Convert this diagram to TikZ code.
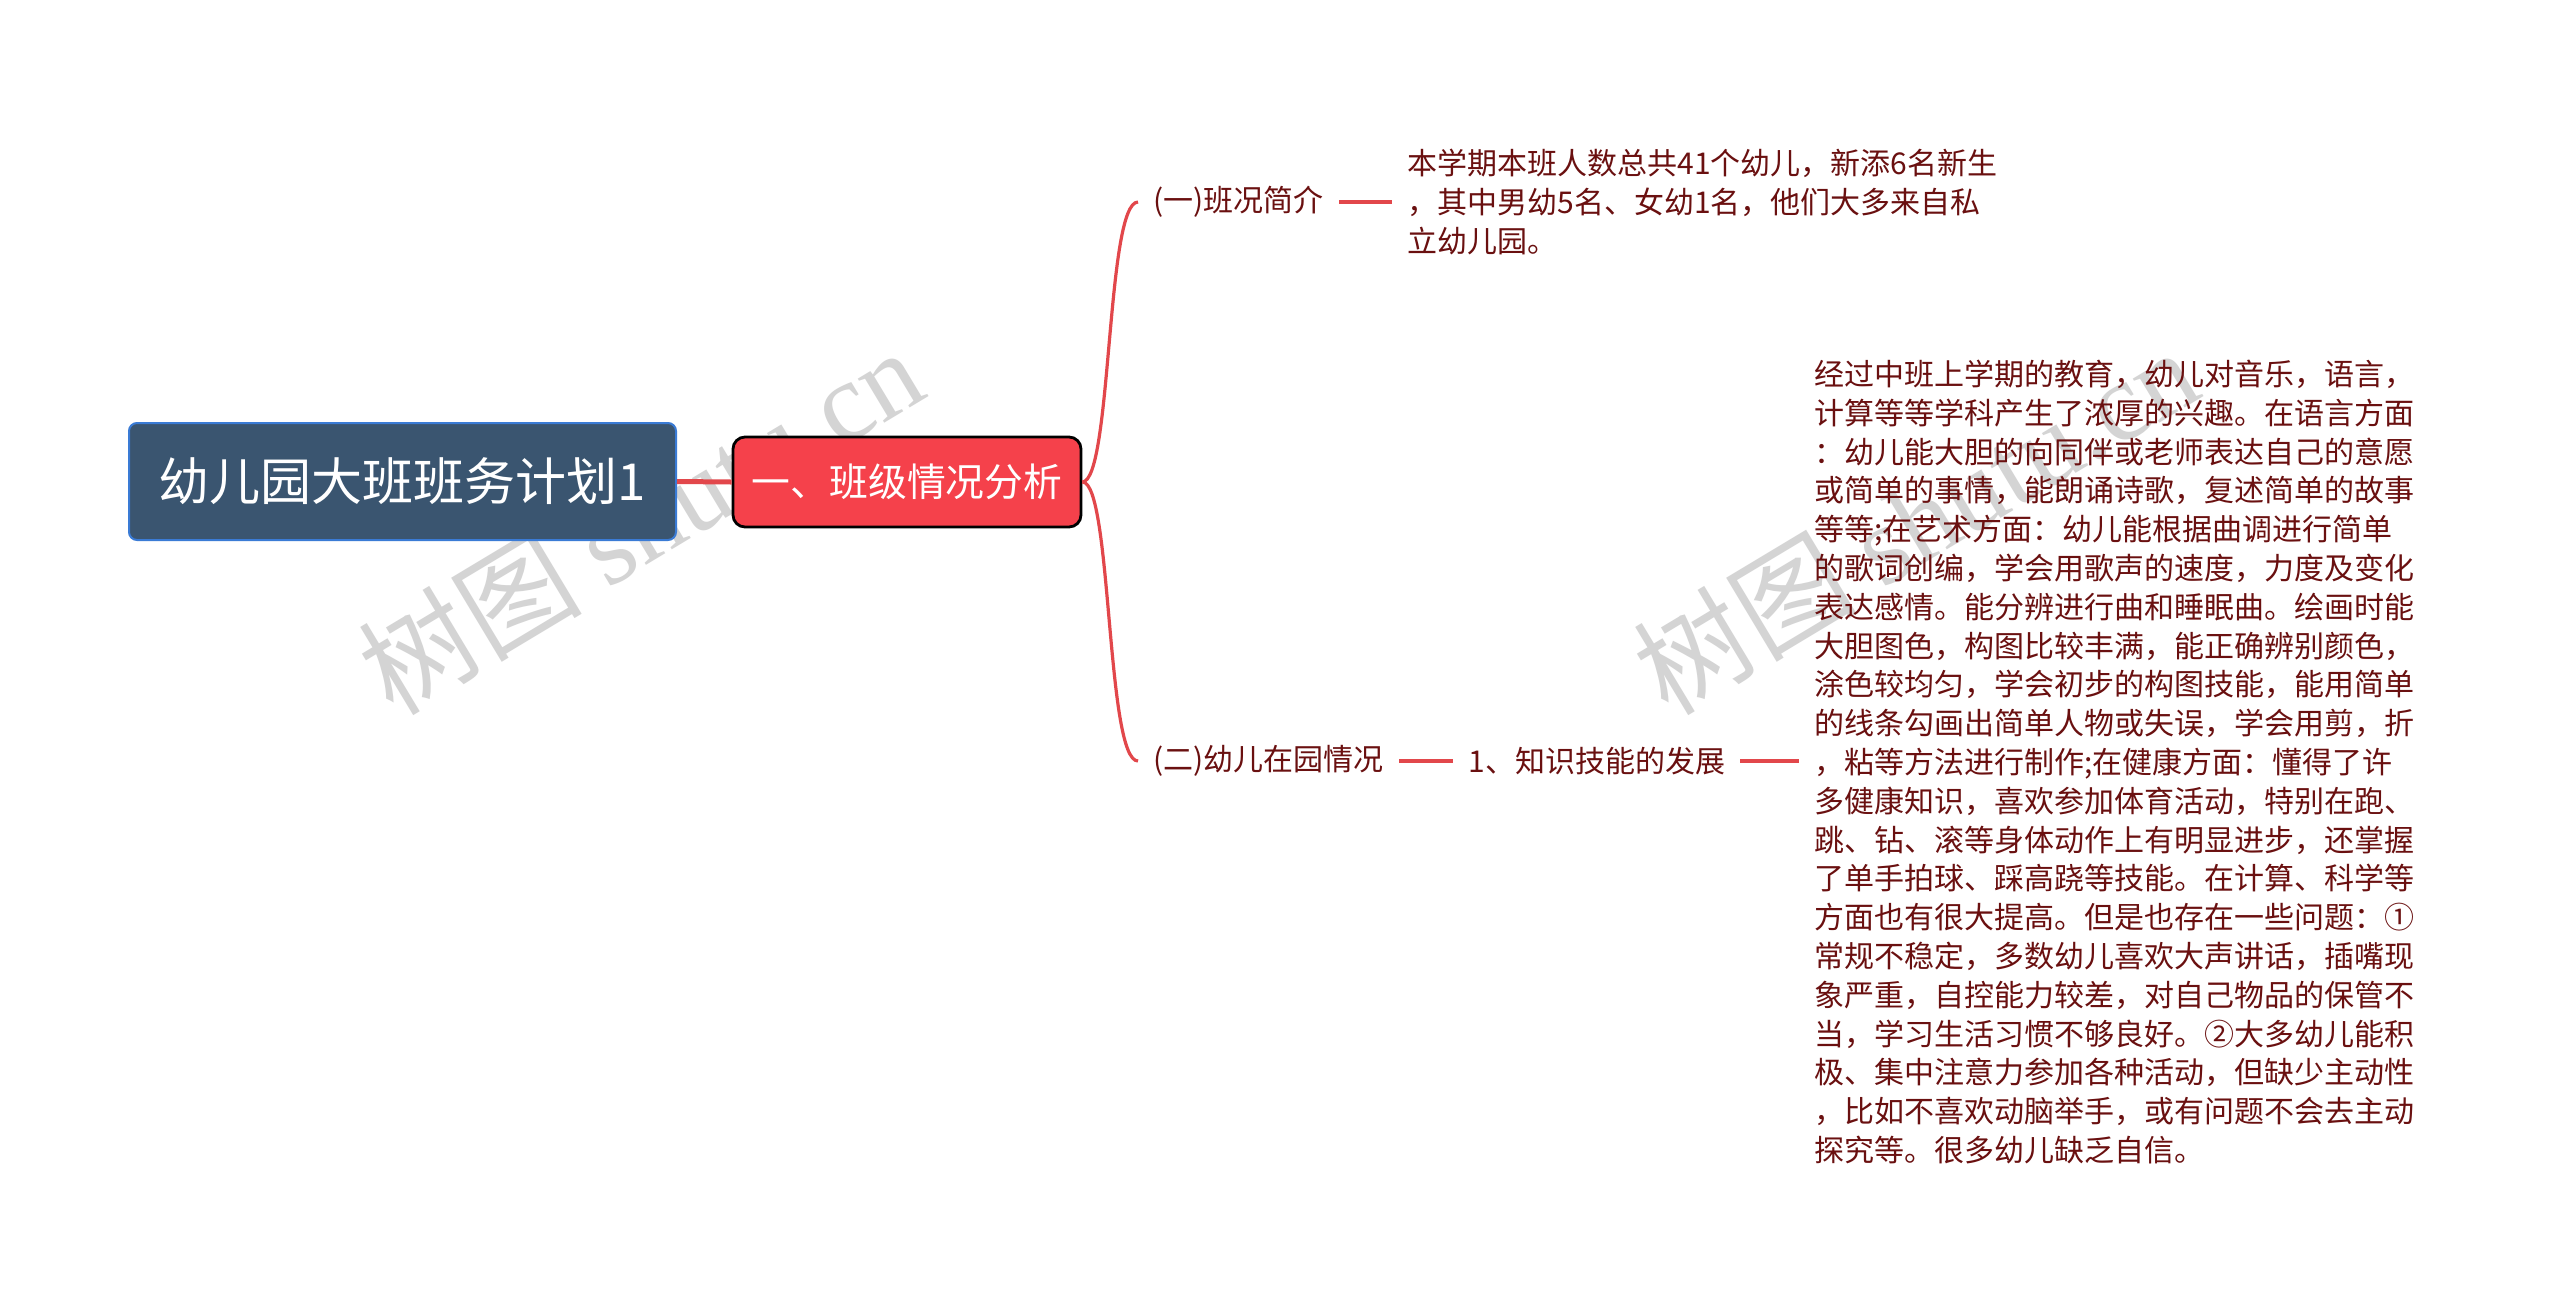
\documentclass[tikz,border=0pt]{standalone}
\usepackage{fontspec}
\setmainfont{Noto Sans CJK SC}
\newfontfamily\wmserif{Liberation Serif}
\definecolor{rootfill}{HTML}{3A5570}
\definecolor{rootborder}{HTML}{3A7BD5}
\definecolor{lonefill}{HTML}{F5414B}
\definecolor{linkred}{HTML}{E2474B}
\definecolor{txtred}{HTML}{6A1010}
\definecolor{wmgray}{HTML}{D4D4D4}
\begin{document}
\begin{tikzpicture}[x=0.5pt,y=-0.5pt,
  rootbox/.style={draw=rootborder,line width=1pt,fill=rootfill,rounded corners=4pt,
    minimum width=273.5pt,minimum height=58.5pt,text=white,font=\fontsize{25.5pt}{30pt}\selectfont},
  lonebox/.style={draw=black,line width=1.4pt,fill=lonefill,rounded corners=6pt,
    minimum width=174pt,minimum height=45pt,text=white,font=\fontsize{19.4pt}{23pt}\selectfont},
  plain/.style={text=txtred,inner xsep=7.5pt,inner ysep=2pt,anchor=west,align=left,
    font=\fontsize{15pt}{19.4pt}\selectfont},
  link/.style={draw=linkred,line width=2pt},
  curvelink/.style={draw=linkred,line width=1.6pt},
  wm/.style={text=wmgray,rotate=31,font=\fontsize{56pt}{58pt}\selectfont,inner sep=0pt}]
\useasboundingbox (0,0) rectangle (2560,1313);
\fill[white] (0,0) rectangle (2560,1313);
% watermarks
\node[wm] (wm1) at (640,520) {树图 {\wmserif shutu.cn}};
\node[wm] (wm2) at (1915,520) {树图 {\wmserif shutu.cn}};
% nodes
\node[rootbox] (root) at (402.5,481.5) {幼儿园大班班务计划1};
\node[lonebox] (l1) at (907,482) {一、班级情况分析};
\node[plain] (b1) at (1138,202) {(一)班况简介};
\node[plain] (leaf1) at (1392,202) {本学期本班人数总共41个幼儿，新添6名新生\\，其中男幼5名、女幼1名，他们大多来自私\\立幼儿园。};
\node[plain] (b2) at (1138,761) {(二)幼儿在园情况};
\node[plain] (c1) at (1453,761) {1、知识技能的发展};
\node[plain] (leaf2) at (1799,762) {经过中班上学期的教育，幼儿对音乐，语言，\\
计算等等学科产生了浓厚的兴趣。在语言方面\\
：幼儿能大胆的向同伴或老师表达自己的意愿\\
或简单的事情，能朗诵诗歌，复述简单的故事\\
等等;在艺术方面：幼儿能根据曲调进行简单\\
的歌词创编，学会用歌声的速度，力度及变化\\
表达感情。能分辨进行曲和睡眠曲。绘画时能\\
大胆图色，构图比较丰满，能正确辨别颜色，\\
涂色较均匀，学会初步的构图技能，能用简单\\
的线条勾画出简单人物或失误，学会用剪，折\\
，粘等方法进行制作;在健康方面：懂得了许\\
多健康知识，喜欢参加体育活动，特别在跑、\\
跳、钻、滚等身体动作上有明显进步，还掌握\\
了单手拍球、踩高跷等技能。在计算、科学等\\
方面也有很大提高。但是也存在一些问题：①\\
常规不稳定，多数幼儿喜欢大声讲话，插嘴现\\
象严重，自控能力较差，对自己物品的保管不\\
当，学习生活习惯不够良好。②大多幼儿能积\\
极、集中注意力参加各种活动，但缺少主动性\\
，比如不喜欢动脑举手，或有问题不会去主动\\
探究等。很多幼儿缺乏自信。};
% connectors
\draw[link,line width=2.5pt] (root.east) -- (l1.west);
\draw[curvelink] (l1.east) .. controls (1112,481) and (1106,202) .. (b1.west);
\draw[curvelink] (l1.east) .. controls (1112,482) and (1106,761) .. (b2.west);
\draw[link] (b1.east) -- (leaf1.west |- b1.east);
\draw[link] (b2.east) -- (c1.west);
\draw[link] (c1.east) -- (leaf2.west |- c1.east);
\end{tikzpicture}
\end{document}
